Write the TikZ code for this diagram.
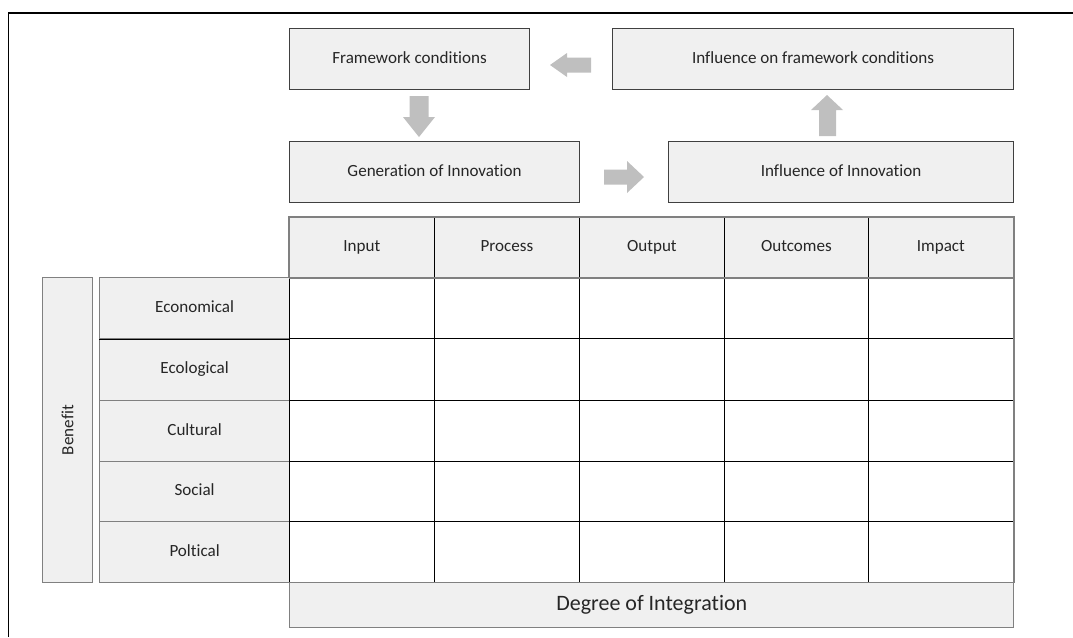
\documentclass[tikz,border=0pt]{standalone}
\usepackage{fontspec}
\setmainfont{Carlito}[Ligatures={NoCommon}]
\definecolor{txt}{HTML}{262626}
\definecolor{cellfill}{HTML}{F0F0F0}
\definecolor{boxline}{HTML}{404040}
\definecolor{tabline}{HTML}{808080}
\definecolor{arrowfill}{HTML}{BFBFBF}
\newcommand{\mycell}[7]{%
  \node[#7, minimum width={(#4-#2)*0.75pt}, minimum height={(#5-#3)*0.75pt}] (#1) at (#2,#3) {#6};}
\begin{document}
\begin{tikzpicture}[x=0.75pt,y=-0.75pt,
  base/.style={inner sep=0pt, anchor=north west, text=txt, font=\fontsize{12.8}{15}\selectfont, text height=8.6pt, text depth=2.6pt},
  topbox/.style={base, draw=boxline, line width=0.8pt, fill=cellfill},
  headcell/.style={base, draw=black, line width=0.6pt, fill=cellfill},
  bodycell/.style={base, draw=black, line width=0.6pt, fill=white},
  labcell/.style={base, draw=tabline, line width=0.9pt, fill=cellfill},
  bigcell/.style={base, draw=tabline, line width=1.1pt, fill=cellfill, font=\fontsize{16.5}{20}\selectfont, text height=11pt, text depth=3.4pt},
  blockarrow/.style={fill=arrowfill, draw=none},
  outline/.style={draw=tabline, line width=1.3pt}]
\useasboundingbox (0,0) rectangle (1073,637);
% frame
\draw[line width=1.2pt] (8.5,637) -- (8.5,12.7) -- (1073,12.7);
% top boxes
\mycell{fc}{289}{28}{529}{89}{Framework conditions}{topbox}
\mycell{ifc}{612}{28}{1013}{89}{Influence on framework conditions}{topbox}
\mycell{gi}{289}{141}{579}{202}{Generation of Innovation}{topbox}
\mycell{ii}{668}{141}{1013}{202}{Influence of Innovation}{topbox}
% block arrows
\fill[blockarrow] (550,65) -- (567,53) -- (567,57.5) -- (591,57.5) -- (591,72.5) -- (567,72.5) -- (567,77) -- cycle;
\fill[blockarrow] (419,137) -- (403,117) -- (409.5,117) -- (409.5,96) -- (428.5,96) -- (428.5,117) -- (435,117) -- cycle;
\fill[blockarrow] (644,177) -- (627,161) -- (627,169.5) -- (604,169.5) -- (604,184.5) -- (627,184.5) -- (627,193) -- cycle;
\fill[blockarrow] (827,95) -- (811,110) -- (819,110) -- (819,136) -- (836,136) -- (836,110) -- (843,110) -- cycle;
% header row
\mycell{h1}{289}{217}{434}{277}{Input}{headcell}
\mycell{h2}{434}{217}{579}{277}{Process}{headcell}
\mycell{h3}{579}{217}{724}{277}{Output}{headcell}
\mycell{h4}{724}{217}{868}{277}{Outcomes}{headcell}
\mycell{h5}{868}{217}{1013}{277}{Impact}{headcell}
% row labels
\mycell{r1}{99}{277}{289}{338}{Economical}{labcell}
\mycell{r2}{99}{338}{289}{400}{Ecological}{labcell}
\mycell{r3}{99}{400}{289}{461}{Cultural}{labcell}
\mycell{r4}{99}{461}{289}{521}{Social}{labcell}
\mycell{r5}{99}{521}{289}{582}{Poltical}{labcell}
\draw[black, line width=0.6pt] (r1.south west) -- (r1.south east);
% body cells
\foreach \i/\ya/\yb in {1/277/338, 2/338/400, 3/400/461, 4/461/521, 5/521/582}{
  \foreach \j/\xa/\xb in {1/289/434, 2/434/579, 3/579/724, 4/724/868, 5/868/1013}{
    \mycell{c-\i-\j}{\xa}{\ya}{\xb}{\yb}{}{bodycell}
  }
}
% outlines
\draw[outline] (h1.south west) -- (h5.south east);
\draw[outline] (h1.south west) -- (h1.north west) -- (h5.north east) -- (c-5-5.south east);
% benefit
\mycell{ben}{42}{277}{92}{582}{}{labcell}
\node[text=txt, font=\fontsize{12.8}{15}\selectfont, rotate=90] (bent) at (ben.center) {Benefit};
% degree of integration
\mycell{deg}{289}{582}{1013}{627}{Degree of Integration}{bigcell}
\end{tikzpicture}
\end{document}
